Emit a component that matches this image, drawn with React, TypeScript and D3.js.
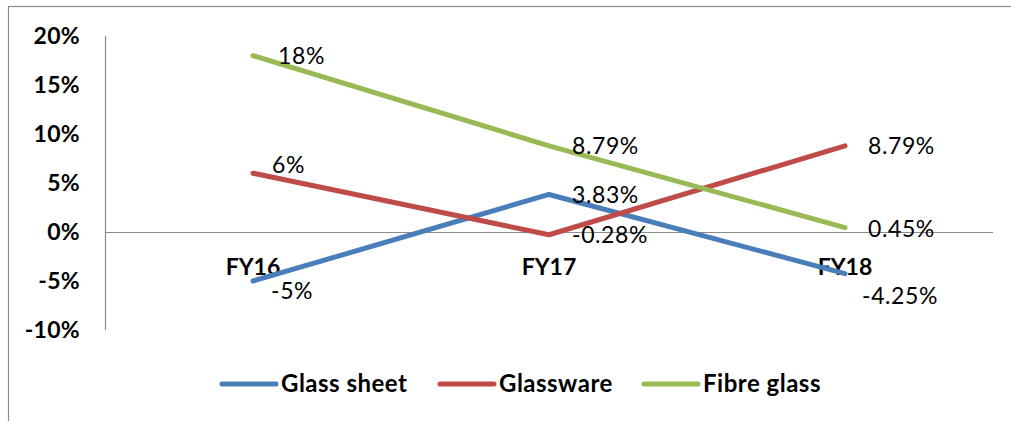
import React from "react";
import * as d3 from "d3";

const categories = ["FY16", "FY17", "FY18"];
const glassSheet = [-5, 3.83, -4.25];
const glassware = [6, -0.28, 8.79];
const fibreGlass = [18, 8.79, 0.45];
const seriesNames = ["Glass sheet", "Glassware", "Fibre glass"];
const seriesLabels = [
  ["-5%", "3.83%", "-4.25%"],
  ["6%", "-0.28%", "8.79%"],
  ["18%", "8.79%", "0.45%"],
];
const yTicks = [-10, -5, 0, 5, 10, 15, 20];

const colors = ["#4A7EBB", "#BE4B48", "#98B954"];
// label offsets relative to point (dx, dy of baseline)
const labelOffsets = [
  [[18, 18], [23, 8.5], [17, 30.5]],
  [[19, 0], [23, 8.5], [23, 8.5]],
  [[25, 8], [23, 8.5], [23, 9]],
];

const W = 1011;
const H = 421;
const left = 105;
const right = 993;
const top = 36;
const bottom = 330;

export default function App() {
  const x = d3.scaleBand<string>().domain(categories).range([left, right]);
  const y = d3.scaleLinear().domain([-10, 20]).range([bottom, top]);
  const series = [glassSheet, glassware, fibreGlass];
  const line = d3
    .line<number>()
    .x((_, i) => (x(categories[i]) as number) + x.bandwidth() / 2)
    .y((d) => y(d));
  const font = "Lato, 'Open Sans', sans-serif";
  const legendX = [222, 440, 644];

  return (
    <svg
      width={W}
      height={H}
      style={{ position: "absolute", left: 0, top: 0 }}
      fontFamily={font}
    >
      <rect x={0} y={0} width={W} height={H} fill="#fff" />
      <rect x={8.5} y={6.5} width={1010} height={430} fill="none" stroke="#8c8c8c" strokeWidth={1.2} />
      {/* y axis */}
      <line x1={left + 0.5} x2={left + 0.5} y1={top} y2={bottom} stroke="#8c8c8c" strokeWidth={1.2} />
      {/* zero line */}
      <line x1={left} x2={right} y1={y(0) + 0.5} y2={y(0) + 0.5} stroke="#8c8c8c" strokeWidth={1.2} />
      {yTicks.map((t) => (
        <text
          key={t}
          x={80}
          y={y(t)}
          dy="0.36em"
          textAnchor="end"
          fontWeight="bold"
          fontSize={23}
          letterSpacing={0.3}
          fill="#000"
        >
          {t + "%"}
        </text>
      ))}
      {categories.map((c) => (
        <text
          key={c}
          x={(x(c) as number) + x.bandwidth() / 2}
          y={274.5}
          textAnchor="middle"
          fontWeight="bold"
          fontSize={23}
          fill="#000"
        >
          {c}
        </text>
      ))}
      {series.map((s, si) => (
        <path
          key={si}
          d={line(s) as string}
          fill="none"
          stroke={colors[si]}
          strokeWidth={5}
          strokeLinecap="round"
          strokeLinejoin="round"
        />
      ))}
      {series.map((s, si) =>
        s.map((v, i) => (
          <text
            key={si + "-" + i}
            x={(x(categories[i]) as number) + x.bandwidth() / 2 + labelOffsets[si][i][0]}
            y={y(v) + labelOffsets[si][i][1]}
            fontSize={23}
            letterSpacing={0.6}
            fill="#000"
          >
            {seriesLabels[si][i]}
          </text>
        ))
      )}
      {seriesNames.map((n, i) => (
        <g key={n}>
          <line
            x1={legendX[i]}
            x2={legendX[i] + 54}
            y1={384}
            y2={384}
            stroke={colors[i]}
            strokeWidth={5}
            strokeLinecap="round"
          />
          <text x={legendX[i] + 59} y={391.5} fontWeight="bold" fontSize={24} letterSpacing={0.5} fill="#000">
            {n}
          </text>
        </g>
      ))}
    </svg>
  );
}
